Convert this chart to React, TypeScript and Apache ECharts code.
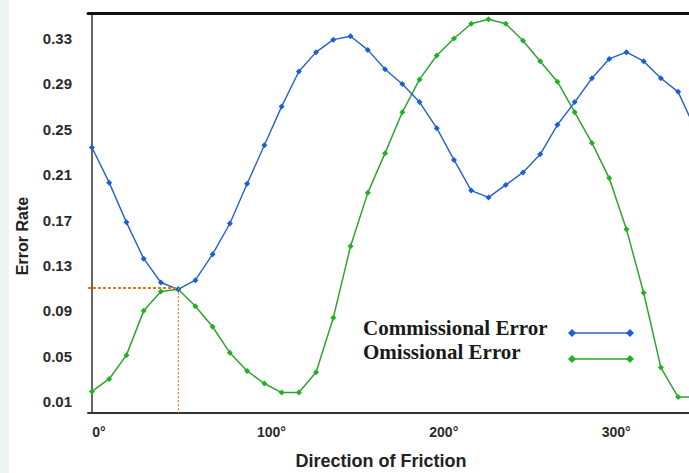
import React, { useEffect, useRef } from "react";
import * as echarts from "echarts";

const ANGLES = [0, 10, 20, 30, 40, 50, 60, 70, 80, 90, 100, 110, 120, 130, 140, 150, 160, 170, 180, 190, 200, 210, 220, 230, 240, 250, 260, 270, 280, 290, 300, 310, 320, 330, 340, 350, 360];
const COMMISSIONAL = [0.234, 0.203, 0.168, 0.136, 0.115, 0.109, 0.117, 0.140, 0.167, 0.202, 0.236, 0.270, 0.301, 0.318, 0.329, 0.332, 0.320, 0.303, 0.290, 0.274, 0.251, 0.223, 0.196, 0.190, 0.201, 0.212, 0.228, 0.254, 0.274, 0.295, 0.312, 0.318, 0.310, 0.295, 0.283, 0.250, 0.234];
const OMISSIONAL = [0.019, 0.030, 0.051, 0.090, 0.107, 0.109, 0.094, 0.076, 0.053, 0.037, 0.026, 0.018, 0.018, 0.036, 0.084, 0.147, 0.194, 0.229, 0.265, 0.294, 0.315, 0.330, 0.343, 0.347, 0.343, 0.328, 0.310, 0.292, 0.265, 0.238, 0.207, 0.162, 0.106, 0.040, 0.014, 0.014, 0.019];
const Y_TICKS = [0.01, 0.05, 0.09, 0.13, 0.17, 0.21, 0.25, 0.29, 0.33];
const X_TICKS = [0, 100, 200, 300];
const CROSS_ANGLE = 50;
const CROSS_RATE = 0.11;
const SERIES_NAMES = ["Commissional Error", "Omissional Error"];
const X_MIN = -2.3;
const X_MAX = 346.3;
const Y_MIN = 0;
const Y_MAX = 0.3525;

const BLUE = "#2463c2";
const BLUE_MK = "#1a5fd8";
const GREEN = "#2fa52f";
const GREEN_MK = "#1fb41f";
const ORANGE = "#e2781c";

function diamond(x: number, y: number, r: number, fill: string) {
  return {
    type: "polygon",
    shape: { points: [[x, y - r], [x + r, y], [x, y + r], [x - r, y]] },
    style: { fill },
    silent: true,
  };
}

export default function App() {
  const ref = useRef<HTMLDivElement>(null);
  useEffect(() => {
    if (!ref.current) return;
    const chart = echarts.init(ref.current, undefined, { renderer: "svg" });
    const blueData = ANGLES.map((a, i) => [a, COMMISSIONAL[i]]);
    const greenData = ANGLES.map((a, i) => [a, OMISSIONAL[i]]);
    const labelFont = '"Liberation Sans", Arial, sans-serif';
    chart.setOption({
      animation: false,
      backgroundColor: "#ffffff",
      grid: { left: 88, right: 0, top: 13, bottom: 60, containLabel: false },
      xAxis: [
        {
          type: "value",
          min: X_MIN,
          max: X_MAX,
          position: "bottom",
          axisLine: { show: true, lineStyle: { color: "#333333", width: 2 } },
          axisTick: { show: false },
          splitLine: { show: false },
          axisLabel: {
            customValues: X_TICKS,
            formatter: (v: number) => v + "°",
            margin: 12,
            padding: [0, 0, 0, 14],
            fontFamily: labelFont,
            fontWeight: "bold",
            fontSize: 14,
            color: "#2b2b2b",
          },
        },
        {
          type: "value",
          min: X_MIN,
          max: X_MAX,
          position: "top",
          axisLine: { show: true, lineStyle: { color: "#111111", width: 3 } },
          axisTick: { show: false },
          splitLine: { show: false },
          axisLabel: { show: false },
        },
      ],
      yAxis: {
        type: "value",
        min: Y_MIN,
        max: Y_MAX,
        axisLine: { show: true, lineStyle: { color: "#333333", width: 1.5 } },
        axisTick: { show: false },
        splitLine: { show: false },
        axisLabel: {
          customValues: Y_TICKS,
          formatter: (v: number) => v.toFixed(2),
          margin: 16,
          fontFamily: labelFont,
          fontWeight: "bold",
          fontSize: 15,
          color: "#2b2b2b",
        },
      },
      series: [
        {
          name: SERIES_NAMES[0],
          type: "line",
          data: blueData,
          symbol: "diamond",
          symbolSize: 6,
          itemStyle: { color: BLUE_MK },
          lineStyle: { color: BLUE, width: 1.4 },
          clip: true,
          z: 3,
          markLine: {
            silent: true,
            symbol: "none",
            label: { show: false },
            data: [
              [
                { coord: [X_MIN, CROSS_RATE], lineStyle: { color: ORANGE, width: 2, type: [3, 2] } },
                { coord: [CROSS_ANGLE, CROSS_RATE] },
              ],
              [
                { coord: [CROSS_ANGLE, CROSS_RATE], lineStyle: { color: ORANGE, width: 1.2, type: [2, 2] } },
                { coord: [CROSS_ANGLE, Y_MIN] },
              ],
            ],
          },
        },
        {
          name: SERIES_NAMES[1],
          type: "line",
          data: greenData,
          symbol: "diamond",
          symbolSize: 6,
          itemStyle: { color: GREEN_MK },
          lineStyle: { color: GREEN, width: 1.5 },
          clip: true,
          z: 2,
        },
      ],
      graphic: [
        { type: "rect", shape: { x: 0, y: 0, width: 9, height: 473 }, style: { fill: "#eef6f3" }, silent: true },
        {
          type: "text",
          x: 22,
          y: 236,
          rotation: Math.PI / 2,
          style: { text: "Error Rate", align: "center", verticalAlign: "middle", font: 'bold 16px "Liberation Sans", Arial, sans-serif', fill: "#222222" },
        },
        {
          type: "text",
          x: 381,
          y: 461,
          style: { text: "Direction of Friction", align: "center", verticalAlign: "middle", font: 'bold 18px "Liberation Sans", Arial, sans-serif', fill: "#222222" },
        },
        {
          type: "text",
          x: 363,
          y: 328,
          style: { text: SERIES_NAMES[0], align: "left", verticalAlign: "middle", font: 'bold 21px "Liberation Serif", "Times New Roman", serif', fill: "#1a1a1a" },
        },
        {
          type: "text",
          x: 363,
          y: 352,
          style: { text: SERIES_NAMES[1], align: "left", verticalAlign: "middle", font: 'bold 21px "Liberation Serif", "Times New Roman", serif', fill: "#1a1a1a" },
        },
        { type: "line", shape: { x1: 572, y1: 333, x2: 630, y2: 333 }, style: { stroke: BLUE, lineWidth: 1.4 }, silent: true },
        diamond(572, 333, 4, BLUE_MK),
        diamond(630, 333, 4, BLUE_MK),
        { type: "line", shape: { x1: 572, y1: 359, x2: 630, y2: 359 }, style: { stroke: GREEN, lineWidth: 1.6 }, silent: true },
        diamond(572, 359, 4, GREEN_MK),
        diamond(630, 359, 4, GREEN_MK),
      ],
    });
    return () => chart.dispose();
  }, []);
  return (
    <div
      ref={ref}
      style={{ position: "fixed", left: 0, top: 0, width: 689, height: 473, background: "#ffffff" }}
    />
  );
}
